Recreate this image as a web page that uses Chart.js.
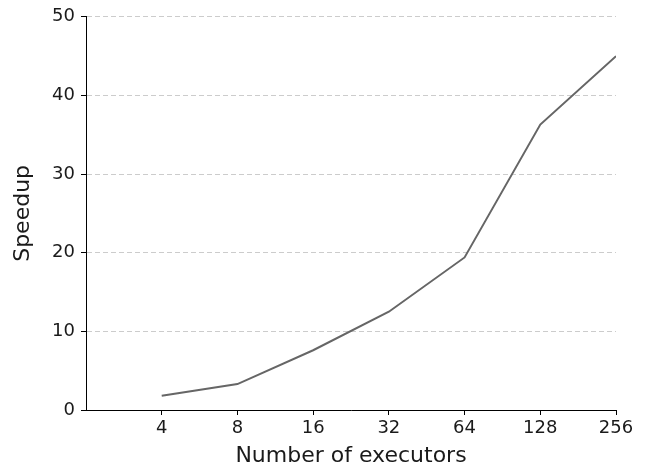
<!DOCTYPE html>
<html>
<head>
<meta charset="utf-8">
<script src="https://cdn.jsdelivr.net/npm/chart.js@4"></script>
<style>
  body { margin: 0; background: #fff; }
  #wrap { width: 646px; height: 469px; }
</style>
</head>
<body>
<div id="wrap"><canvas id="speedupChart"></canvas></div>
<script>
// datos del grafico
const executors = ["4", "8", "16", "32", "64", "128", "256"];
const speedup = [1.8, 3.3, 7.6, 12.5, 19.4, 36.3, 45.0];
const yTicks = [0, 10, 20, 30, 40, 50];

const ctx = document.getElementById("speedupChart").getContext("2d");

new Chart(ctx, {
  type: "line",
  data: {
    datasets: [
      {
        data: speedup.map((v, i) => ({ x: i + 1, y: v })),
        borderColor: "#666666",
        borderWidth: 2,
        pointRadius: 0,
        tension: 0,
      },
    ],
  },
  options: {
    responsive: true,
    maintainAspectRatio: false,
    animation: false,
    layout: { padding: { top: 14, right: 30, left: 0, bottom: 0 } },
    plugins: {
      legend: { display: false },
      tooltip: { enabled: false },
    },
    scales: {
      x: {
        type: "linear",
        min: 0,
        max: executors.length,
        afterBuildTicks: (axis) => {
          axis.ticks = executors.map((_, i) => ({ value: i + 1 }));
        },
        afterFit: (axis) => { axis.height = 59; },
        grid: { drawOnChartArea: false, tickLength: 5, tickColor: "#000" },
        border: { color: "#000", width: 1 },
        ticks: {
          color: "#1a1a1a",
          font: { family: "DejaVu Sans", size: 18 },
          padding: 3,
          maxRotation: 0,
          callback: (v) => executors[v - 1],
        },
        title: {
          display: true,
          text: "Number of executors",
          color: "#1a1a1a",
          font: { family: "DejaVu Sans", size: 22 },
          padding: { top: 0, bottom: 0 },
        },
      },
      y: {
        min: 0,
        max: 50,
        afterBuildTicks: (axis) => {
          axis.ticks = yTicks.map((v) => ({ value: v }));
        },
        afterFit: (axis) => { axis.width = 86; },
        grid: { color: "#cccccc", tickColor: "#000", tickLength: 5, tickBorderDash: [] },
        border: { color: "#000", width: 1, dash: [5, 3] },
        ticks: {
          color: "#1a1a1a",
          font: { family: "DejaVu Sans", size: 18 },
          padding: 6,
        },
        title: {
          display: true,
          text: "Speedup",
          color: "#1a1a1a",
          font: { family: "DejaVu Sans", size: 22 },
          padding: { top: 10, bottom: 0 },
        },
      },
    },
  },
});
</script>
</body>
</html>
